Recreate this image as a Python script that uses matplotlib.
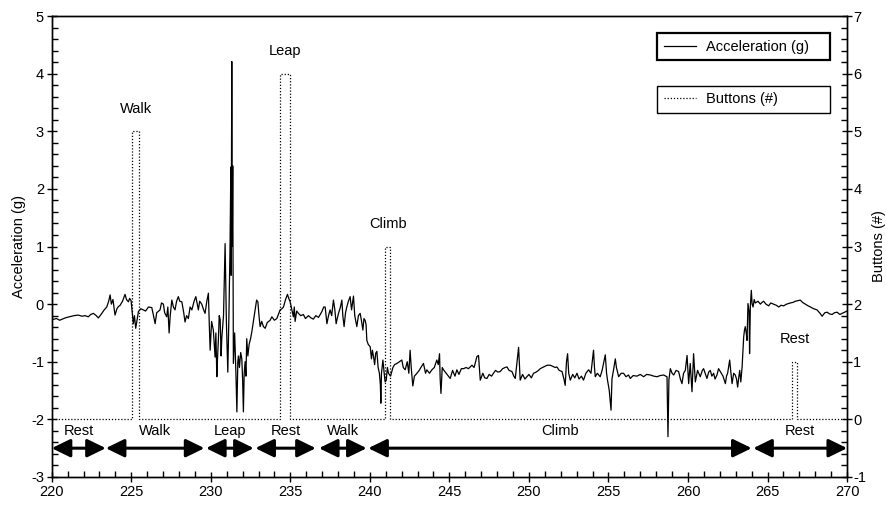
import matplotlib.pyplot as plt
from matplotlib.ticker import MultipleLocator

plt.rcParams['font.family'] = ['Liberation Sans', 'DejaVu Sans']
plt.rcParams['axes.unicode_minus'] = False

# acceleration trace: (time, g)
accel_samples = [
    (220.0, -0.27), (220.3, -0.25), (220.5, -0.28), (220.84, -0.24), (221.1, -0.22), (221.4, -0.2),
    (221.67, -0.19), (221.9, -0.21), (222.1, -0.2), (222.3, -0.22), (222.45, -0.18), (222.62, -0.16),
    (222.8, -0.2), (222.93, -0.24), (223.1, -0.18), (223.3, -0.1), (223.46, -0.05), (223.58, 0.05),
    (223.67, 0.16), (223.75, 0.0), (223.85, 0.08), (223.98, -0.19), (224.1, -0.08), (224.2, -0.04),
    (224.3, -0.02), (224.45, 0.05), (224.61, 0.17), (224.7, 0.08), (224.82, 0.04), (224.9, 0.1),
    (224.99, 0.06), (225.13, -0.34), (225.2, -0.2), (225.28, -0.42), (225.45, -0.13), (225.6, -0.08),
    (225.76, -0.1), (225.9, -0.12), (226.08, -0.05), (226.29, -0.06), (226.4, -0.2), (226.5, -0.34),
    (226.6, -0.15), (226.81, -0.1), (226.9, 0.02), (227.02, 0.0), (227.1, -0.15), (227.23, -0.22),
    (227.3, -0.05), (227.38, -0.5), (227.45, -0.2), (227.55, 0.07), (227.65, -0.05), (227.75, -0.1),
    (227.85, 0.05), (227.96, 0.13), (228.05, 0.05), (228.18, 0.04), (228.3, -0.15), (228.38, -0.31),
    (228.48, -0.2), (228.59, -0.25), (228.7, -0.05), (228.81, -0.1), (228.95, 0.05), (229.06, 0.13),
    (229.15, 0.0), (229.22, -0.1), (229.3, 0.05), (229.43, 0.0), (229.55, -0.1), (229.64, -0.16),
    (229.75, 0.05), (229.85, 0.19), (229.9, -0.3), (229.96, -0.8), (230.05, -0.3), (230.16, -0.45),
    (230.22, -0.7), (230.27, -0.92), (230.32, -0.5), (230.38, -1.26), (230.43, -0.9), (230.48, -0.6),
    (230.53, -0.2), (230.59, -0.27), (230.65, -0.9), (230.69, -0.6), (230.8, -0.2), (230.9, 1.05),
    (230.98, -0.3), (231.07, -1.18), (231.14, -0.2), (231.21, 1.0), (231.26, 2.38), (231.28, 0.5),
    (231.32, 4.21), (231.35, 1.0), (231.38, 2.4), (231.42, -1.03), (231.5, -0.5), (231.58, -1.2),
    (231.64, -1.87), (231.7, -1.0), (231.74, -0.9), (231.8, -1.1), (231.88, -0.84), (231.95, -0.95),
    (232.0, -1.3), (232.05, -1.87), (232.1, -1.2), (232.16, -1.0), (232.21, -1.25), (232.26, -0.6),
    (232.33, -0.9), (232.41, -0.7), (232.5, -0.6), (232.58, -0.48), (232.68, -0.3), (232.79, -0.1),
    (232.88, 0.07), (232.96, 0.04), (233.03, -0.2), (233.1, -0.39), (233.2, -0.3), (233.31, -0.39),
    (233.42, -0.42), (233.55, -0.32), (233.73, -0.28), (233.84, -0.22), (234.0, -0.28), (234.15, -0.25),
    (234.25, -0.18), (234.36, -0.1), (234.47, -0.08), (234.57, -0.05), (234.7, 0.08), (234.82, 0.17),
    (234.9, 0.1), (234.99, 0.04), (235.1, -0.1), (235.19, -0.22), (235.25, -0.05), (235.3, -0.3),
    (235.4, -0.12), (235.51, -0.16), (235.65, -0.2), (235.82, -0.18), (235.95, -0.25), (236.14, -0.2),
    (236.3, -0.24), (236.45, -0.26), (236.6, -0.2), (236.77, -0.23), (236.88, -0.18), (236.98, -0.13),
    (237.1, -0.05), (237.19, -0.05), (237.3, -0.34), (237.4, -0.2), (237.5, -0.1), (237.6, -0.2),
    (237.71, 0.07), (237.8, -0.1), (237.88, -0.34), (237.95, -0.25), (238.03, -0.16), (238.15, -0.05),
    (238.24, 0.07), (238.3, -0.2), (238.38, -0.39), (238.47, -0.15), (238.55, -0.05), (238.65, 0.05),
    (238.76, 0.13), (238.85, -0.1), (238.97, 0.14), (239.05, -0.2), (239.18, -0.39), (239.28, -0.2),
    (239.39, -0.16), (239.48, -0.3), (239.56, -0.45), (239.63, -0.25), (239.7, -0.28), (239.76, -0.35),
    (239.81, -0.63), (239.9, -0.7), (240.02, -0.74), (240.1, -0.95), (240.16, -0.8), (240.23, -0.91),
    (240.3, -1.05), (240.37, -0.85), (240.44, -0.82), (240.52, -1.1), (240.6, -1.2), (240.66, -1.4),
    (240.69, -1.72), (240.73, -1.2), (240.82, -0.97), (240.9, -1.2), (240.96, -1.35), (241.03, -1.32),
    (241.1, -1.1), (241.17, -1.2), (241.3, -1.25), (241.45, -1.1), (241.55, -1.05), (241.7, -1.03),
    (241.85, -1.0), (242.01, -0.97), (242.1, -1.1), (242.22, -1.14), (242.35, -1.0), (242.45, -1.2),
    (242.53, -0.8), (242.6, -1.1), (242.7, -1.42), (242.8, -1.25), (242.96, -1.2), (243.1, -1.15),
    (243.25, -1.08), (243.37, -1.03), (243.5, -1.2), (243.58, -1.14), (243.75, -1.2), (243.9, -1.14),
    (244.05, -1.1), (244.21, -0.97), (244.3, -1.05), (244.38, -0.86), (244.42, -1.3), (244.47, -1.55),
    (244.55, -1.1), (244.63, -1.14), (244.8, -1.2), (245.05, -1.29), (245.2, -1.15), (245.35, -1.25),
    (245.47, -1.14), (245.6, -1.22), (245.75, -1.12), (245.89, -1.12), (246.05, -1.1), (246.2, -1.12),
    (246.42, -1.06), (246.55, -1.1), (246.73, -0.91), (246.83, -0.89), (246.94, -1.32), (247.1, -1.2),
    (247.22, -1.28), (247.36, -1.29), (247.5, -1.22), (247.65, -1.25), (247.77, -1.2), (247.9, -1.15),
    (248.05, -1.18), (248.19, -1.17), (248.35, -1.12), (248.5, -1.1), (248.62, -1.09), (248.75, -1.15),
    (248.93, -1.17), (249.05, -1.25), (249.14, -1.29), (249.25, -1.0), (249.35, -0.75), (249.45, -1.32),
    (249.6, -1.22), (249.75, -1.3), (249.87, -1.26), (250.0, -1.22), (250.15, -1.28), (250.29, -1.2),
    (250.45, -1.18), (250.6, -1.15), (250.71, -1.12), (250.85, -1.1), (251.0, -1.08), (251.15, -1.06),
    (251.34, -1.06), (251.5, -1.08), (251.65, -1.1), (251.76, -1.09), (251.9, -1.15), (252.08, -1.17),
    (252.2, -1.3), (252.28, -1.41), (252.36, -1.0), (252.43, -0.86), (252.5, -1.2), (252.6, -1.32),
    (252.75, -1.22), (252.88, -1.28), (253.02, -1.2), (253.15, -1.3), (253.3, -1.25), (253.43, -1.32),
    (253.58, -1.2), (253.75, -1.14), (253.9, -1.2), (254.06, -0.8), (254.12, -1.1), (254.17, -1.26),
    (254.3, -1.2), (254.48, -1.26), (254.6, -1.15), (254.8, -0.88), (254.88, -1.2), (254.94, -1.32),
    (255.05, -1.5), (255.16, -1.84), (255.22, -1.3), (255.32, -1.14), (255.43, -0.95), (255.5, -1.1),
    (255.64, -1.26), (255.8, -1.2), (255.95, -1.2), (256.1, -1.26), (256.26, -1.23), (256.37, -1.29),
    (256.55, -1.24), (256.79, -1.25), (257.0, -1.22), (257.21, -1.26), (257.4, -1.22), (257.63, -1.23),
    (257.85, -1.25), (258.05, -1.26), (258.25, -1.24), (258.47, -1.23), (258.6, -1.25), (258.68, -1.26),
    (258.74, -2.3), (258.8, -1.31), (258.89, -1.12), (259.0, -1.2), (259.1, -1.23), (259.25, -1.15),
    (259.41, -1.17), (259.52, -1.3), (259.62, -1.38), (259.72, -1.2), (259.83, -1.15), (259.94, -0.89),
    (260.04, -1.38), (260.14, -1.03), (260.25, -1.52), (260.35, -0.86), (260.46, -1.35), (260.6, -1.15),
    (260.77, -1.26), (260.9, -1.15), (260.98, -1.12), (261.1, -1.22), (261.19, -1.29), (261.3, -1.18),
    (261.4, -1.15), (261.5, -1.25), (261.61, -1.2), (261.7, -1.3), (261.82, -1.23), (261.92, -1.12),
    (262.03, -1.17), (262.2, -1.25), (262.35, -1.38), (262.42, -1.25), (262.49, -1.2), (262.62, -0.97),
    (262.7, -1.2), (262.77, -1.38), (262.87, -1.2), (262.97, -1.23), (263.05, -1.3), (263.12, -1.44),
    (263.2, -1.25), (263.25, -1.15), (263.32, -1.35), (263.4, -1.09), (263.5, -0.57), (263.55, -0.45),
    (263.6, -0.39), (263.66, -0.5), (263.71, -0.63), (263.77, 0.01), (263.84, -0.13), (263.87, -0.86),
    (263.92, -0.03), (263.98, 0.24), (264.03, 0.0), (264.09, -0.05), (264.16, 0.08), (264.23, 0.02),
    (264.4, 0.05), (264.55, 0.0), (264.65, 0.03), (264.75, 0.05), (264.9, 0.0), (265.07, -0.03),
    (265.2, 0.02), (265.38, 0.0), (265.55, -0.02), (265.7, -0.05), (265.85, -0.02), (266.01, -0.03),
    (266.2, 0.0), (266.43, 0.02), (266.6, 0.03), (266.75, 0.05), (266.9, 0.06), (267.06, 0.07),
    (267.2, 0.03), (267.38, 0.0), (267.55, -0.03), (267.7, -0.05), (267.9, -0.08), (268.11, -0.1),
    (268.3, -0.16), (268.43, -0.21), (268.6, -0.15), (268.74, -0.14), (268.9, -0.17), (269.06, -0.18),
    (269.2, -0.15), (269.37, -0.14), (269.55, -0.18), (269.69, -0.16), (270.0, -0.12),
]

# button presses: start, end, count, label
press_start = [225.07, 234.36, 240.96, 266.54]
press_end = [225.51, 234.99, 241.28, 266.86]
press_count = [5, 6, 3, 1]
press_label = ['Walk', 'Leap', 'Climb', 'Rest']

# observed behaviour phases
phase_names = ['Rest', 'Walk', 'Leap', 'Rest', 'Walk', 'Climb', 'Rest']
phase_start = [220.0, 223.4, 229.7, 232.8, 236.8, 239.9, 264.1]
phase_end = [223.4, 229.6, 232.7, 236.6, 239.8, 264.0, 270.0]

accel_t = [s[0] for s in accel_samples]
accel_g = [s[1] for s in accel_samples]

button_t = [220.0]
button_n = [0]
for t0, t1, n in zip(press_start, press_end, press_count):
    button_t += [t0, t0, t1, t1]
    button_n += [0, n, n, 0]
button_t.append(270.0)
button_n.append(0)

fig = plt.figure(figsize=(8.87, 5.07), dpi=100)
ax = fig.add_axes([0.0583, 0.0592, 0.8967, 0.9092])
ax2 = ax.twinx()

line_acc, = ax.plot(accel_t, accel_g, color='black', lw=0.9, label='Acceleration (g)')
line_btn, = ax2.plot(button_t, button_n, color='black', lw=0.9, ls=(0, (1, 1.5)), label='Buttons (#)')

for t0, t1, n, lab in zip(press_start, press_end, press_count, press_label):
    ax2.text((t0 + t1) / 2, n + 0.27, lab, ha='center', va='bottom', fontsize=10.5)

for name, t0, t1 in zip(phase_names, phase_start, phase_end):
    ax.annotate('', xy=(t1, -2.5), xytext=(t0, -2.5),
                arrowprops=dict(arrowstyle='<|-|>,head_length=0.45,head_width=0.22',
                                mutation_scale=25, lw=2.2, color='black',
                                shrinkA=0, shrinkB=0))
    ax.text((t0 + t1) / 2, -2.2, name, ha='center', va='center', fontsize=10.5)

ax.set_xlim(220, 270)
ax.set_ylim(-3, 5)
ax2.set_ylim(-1, 7)

ax.xaxis.set_major_locator(MultipleLocator(5))
ax.xaxis.set_minor_locator(MultipleLocator(1))
ax.yaxis.set_major_locator(MultipleLocator(1))
ax.yaxis.set_minor_locator(MultipleLocator(0.2))
ax2.yaxis.set_major_locator(MultipleLocator(1))
ax2.yaxis.set_minor_locator(MultipleLocator(0.2))

ax.tick_params(axis='both', which='major', direction='inout', length=7, width=1, labelsize=10.5, pad=2)
ax.tick_params(axis='both', which='minor', direction='in', length=4, width=1)
ax2.tick_params(axis='y', which='major', direction='inout', length=7, width=1, labelsize=10.5, pad=1)
ax2.tick_params(axis='y', which='minor', direction='in', length=4, width=1)

ax.set_ylabel('Acceleration (g)', fontsize=10.5, labelpad=4)
ax2.set_ylabel('Buttons (#)', fontsize=10.5, labelpad=4)

for a in (ax, ax2):
    for sp in a.spines.values():
        sp.set_linewidth(1.0)

leg1 = ax2.legend(handles=[line_acc], loc='center', mode='expand',
                  bbox_to_anchor=(0.761, 0.901, 0.2176, 0.065),
                  fancybox=False, edgecolor='black', framealpha=1, fontsize=10.5,
                  handlelength=2.2, handletextpad=0.7, borderpad=0.45, borderaxespad=0)
leg1.get_frame().set_linewidth(1.6)
ax2.add_artist(leg1)
leg2 = ax2.legend(handles=[line_btn], loc='center', mode='expand',
                  bbox_to_anchor=(0.761, 0.787, 0.2176, 0.065),
                  fancybox=False, edgecolor='black', framealpha=1, fontsize=10.5,
                  handlelength=2.2, handletextpad=0.7, borderpad=0.45, borderaxespad=0)
leg2.get_frame().set_linewidth(1.0)

fig.savefig('out.png', dpi=100)
